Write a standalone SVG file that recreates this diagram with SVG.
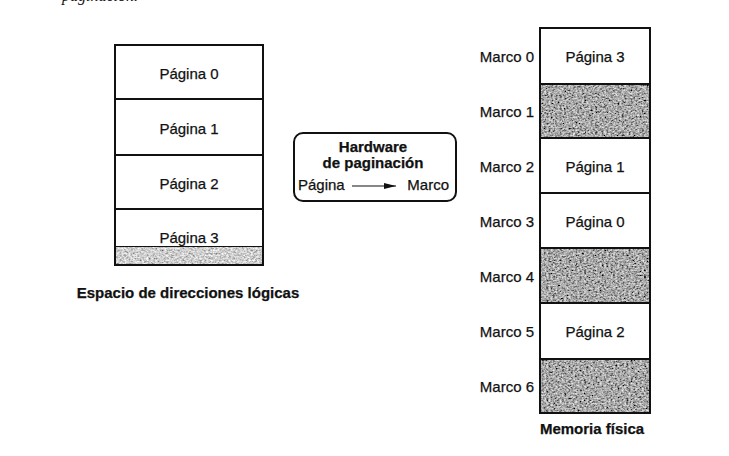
<svg xmlns="http://www.w3.org/2000/svg" width="729" height="456" viewBox="0 0 729 456">
<style>
.t{font-family:"Liberation Sans",Arial,sans-serif;font-size:15px;fill:#111;stroke:#111;stroke-width:0.25}
.b{font-weight:bold}
.c{text-anchor:middle}
.r{text-anchor:end}
.box{fill:#fff;stroke:#111;stroke-width:2}
.edge{fill:none;stroke:#111;stroke-width:2}
.dark{fill:#666;filter:url(#nd)}
.light{fill:#aaa;filter:url(#nl)}
</style>
<defs>
<filter id="nd" x="0" y="0" width="100%" height="100%" filterUnits="objectBoundingBox">
<feTurbulence type="fractalNoise" baseFrequency="0.45 0.6" numOctaves="3" seed="4" result="t"/>
<feColorMatrix in="t" type="matrix" values="1.3 0 0 0 -0.26  1.3 0 0 0 -0.26  1.3 0 0 0 -0.26  0 0 0 0 1" result="g"/>
<feComposite in="g" in2="SourceGraphic" operator="in"/>
</filter>
<filter id="nl" x="0" y="0" width="100%" height="100%" filterUnits="objectBoundingBox">
<feTurbulence type="fractalNoise" baseFrequency="0.45 0.6" numOctaves="3" seed="7" result="t"/>
<feColorMatrix in="t" type="matrix" values="1.2 0 0 0 0.02  1.2 0 0 0 0.02  1.2 0 0 0 0.02  0 0 0 0 1" result="g"/>
<feComposite in="g" in2="SourceGraphic" operator="in"/>
</filter>
<marker id="ah" markerWidth="12" markerHeight="6" refX="12" refY="3" orient="auto" markerUnits="userSpaceOnUse">
<path d="M0,0 L12,3 L0,6 Z" fill="#111"/>
</marker>
</defs>
<rect width="729" height="456" fill="#fff"/>
<text x="62" y="0.5" style="font-family:'Liberation Serif',serif;font-size:16px;font-style:italic;fill:#111">paginación.</text>

<g id="logical">
<rect class="box" x="115" y="45" width="148" height="54"/>
<text class="t c" x="189" y="79">Página 0</text>
<rect class="box" x="115" y="99" width="148" height="56"/>
<text class="t c" x="189" y="134">Página 1</text>
<rect class="box" x="115" y="155" width="148" height="54"/>
<text class="t c" x="189" y="189">Página 2</text>
<rect class="box" x="115" y="209" width="148" height="38"/>
<text class="t c" x="189" y="243">Página 3</text>
<rect class="light" x="115" y="247" width="148" height="18"/>
<rect class="edge" x="115" y="45" width="148" height="220"/>
<text class="t b c" x="188" y="298">Espacio de direcciones lógicas</text>
</g>

<g id="hardware">
<rect class="box" x="294" y="133" width="162" height="68" rx="9"/>
<text class="t b c" x="373" y="152">Hardware</text>
<text class="t b c" x="373" y="168">de paginación</text>
<text class="t" x="298" y="190">Página</text>
<text class="t r" x="449" y="190">Marco</text>
</g>

<g id="connectors">
<line x1="352" y1="186" x2="396" y2="186" stroke="#111" stroke-width="1.2" marker-end="url(#ah)"/>
</g>

<g id="physical">
<rect class="box" x="540" y="28" width="110" height="56"/>
<text class="t c" x="595" y="62">Página 3</text>
<rect class="dark" x="540" y="84" width="110" height="54"/>
<rect class="box" x="540" y="138" width="110" height="55"/>
<text class="t c" x="595" y="172">Página 1</text>
<rect class="box" x="540" y="193" width="110" height="55"/>
<text class="t c" x="595" y="227">Página 0</text>
<rect class="dark" x="540" y="248" width="110" height="55"/>
<rect class="box" x="540" y="303" width="110" height="56"/>
<text class="t c" x="595" y="337">Página 2</text>
<rect class="dark" x="540" y="359" width="110" height="54"/>
<rect class="edge" x="540" y="28" width="110" height="385"/>
<line class="edge" x1="540" y1="84" x2="650" y2="84"/>
<line class="edge" x1="540" y1="138" x2="650" y2="138"/>
<line class="edge" x1="540" y1="248" x2="650" y2="248"/>
<line class="edge" x1="540" y1="303" x2="650" y2="303"/>
<line class="edge" x1="540" y1="359" x2="650" y2="359"/>
<text class="t r" x="534" y="62">Marco 0</text>
<text class="t r" x="534" y="117">Marco 1</text>
<text class="t r" x="534" y="172">Marco 2</text>
<text class="t r" x="534" y="227">Marco 3</text>
<text class="t r" x="534" y="282">Marco 4</text>
<text class="t r" x="534" y="337">Marco 5</text>
<text class="t r" x="534" y="392">Marco 6</text>
<text class="t b c" x="592" y="434">Memoria física</text>
</g>
</svg>
